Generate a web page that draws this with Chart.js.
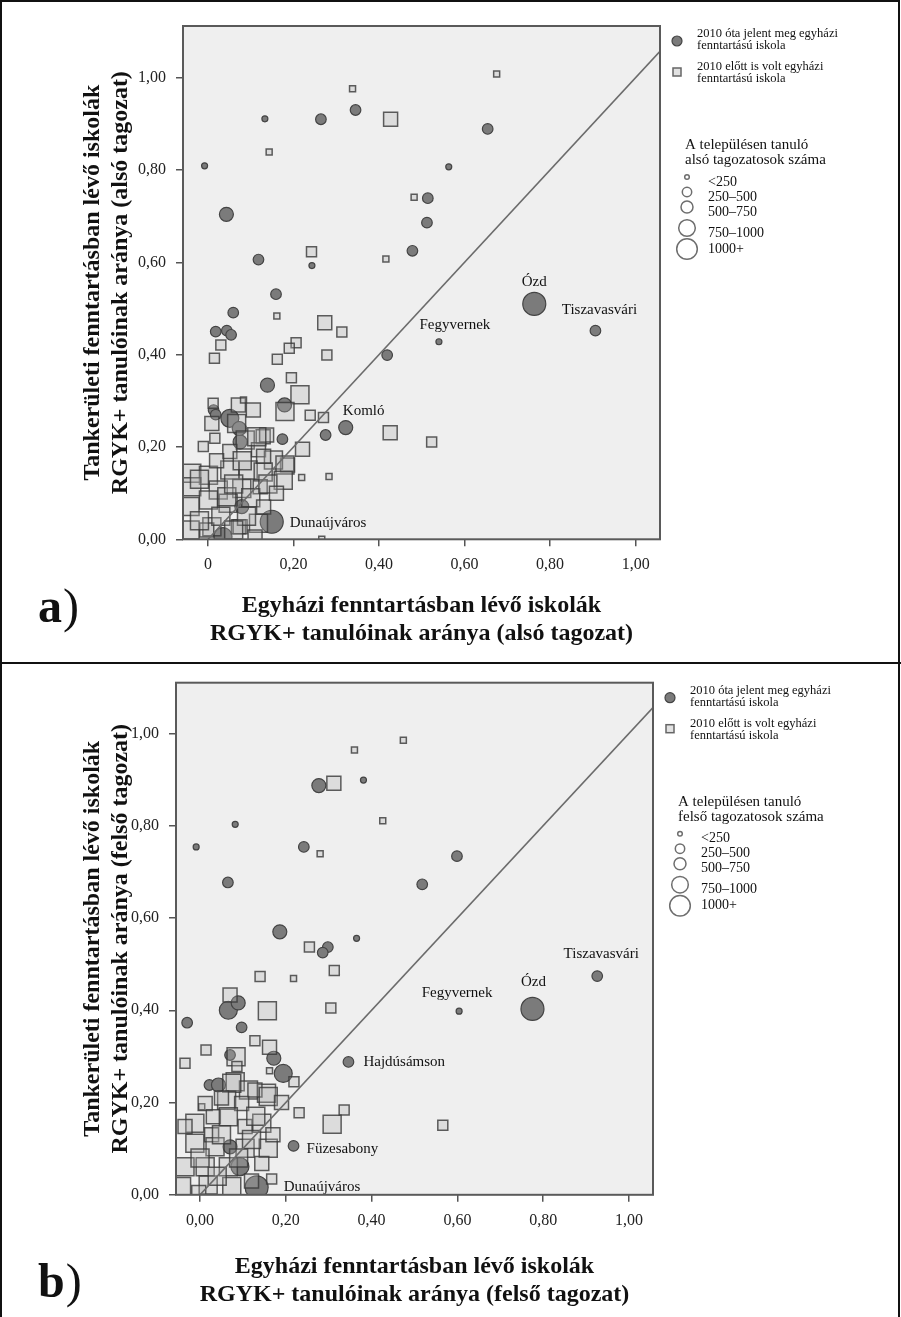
<!DOCTYPE html>
<html>
<head>
<meta charset="utf-8">
<script src="https://cdn.jsdelivr.net/npm/chart.js@4.4.1/dist/chart.umd.min.js"></script>
<style>
  body { margin: 0; background: #fff; width: 901px; height: 1317px; position: relative; overflow: hidden; }
  canvas { position: absolute; left: 0; }
  #chartA { top: 0; }
  #chartB { top: 663px; }
  .frame { position: absolute; left: 0; top: 0; width: 900px; height: 1317px; border: 2px solid #111; border-bottom: none; box-sizing: border-box; pointer-events: none; }
  .sep { position: absolute; left: 0; top: 662px; width: 901px; border-top: 2px solid #111; pointer-events: none; }
</style>
</head>
<body>
<canvas id="chartA" width="901" height="663"></canvas>
<canvas id="chartB" width="901" height="654"></canvas>
<div class="frame"></div>
<div class="sep"></div>
<script>
// ticks
const xTickValues = [0, 0.2, 0.4, 0.6, 0.8, 1.0];
const yTickValues = [0, 0.2, 0.4, 0.6, 0.8, 1.0];
const yTickLabels = ['0,00', '0,20', '0,40', '0,60', '0,80', '1,00'];
const xTickLabelsA = ['0', '0,20', '0,40', '0,60', '0,80', '1,00'];
const xTickLabelsB = ['0,00', '0,20', '0,40', '0,60', '0,80', '1,00'];

// legend texts
const groupNames = [
    ['2010 óta jelent meg egyházi', 'fenntartású iskola'],
    ['2010 előtt is volt egyházi', 'fenntartású iskola']
];
const sizeClasses = ['<250', '250–500', '500–750', '750–1000', '1000+'];

// a) alsó tagozat - circles: new church schools since 2010 (size = class index)
const aCircleX = [0.133, 0.264, 0.345, 0.654, -0.008, 0.563, 0.514, 0.512, 0.043, 0.478,
    0.243, 0.118, 0.159, 0.059, 0.018, 0.044, 0.054, 0.763, 0.906, 0.540,
    0.419, 0.139, 0.179, 0.322, 0.275, 0.174, 0.149, 0.035, 0.013, 0.018,
    0.051, 0.075, 0.073, 0.079];
const aCircleY = [0.911, 0.910, 0.930, 0.889, 0.809, 0.807, 0.739, 0.686, 0.704, 0.625,
    0.593, 0.606, 0.531, 0.491, 0.450, 0.452, 0.443, 0.510, 0.452, 0.428,
    0.399, 0.334, 0.291, 0.242, 0.226, 0.217, 0.038, 0.006, 0.280, 0.270,
    0.262, 0.211, 0.240, 0.071];
const aCircleSize = [0, 1, 1, 1, 0, 0, 1, 1, 2, 1,
    0, 1, 1, 1, 1, 1, 1, 4, 1, 0,
    1, 2, 2, 2, 1, 1, 4, 3, 1, 1,
    3, 2, 2, 2];

// a) squares: church schools already before 2010
const aSquareX = [0.675, 0.338, 0.427, 0.143, 0.482, 0.242, 0.416, 0.161, 0.273, 0.313,
    0.206, 0.030, 0.015, 0.162, 0.190, 0.278, 0.195, 0.215, 0.180, 0.239,
    0.270, 0.426, 0.523, 0.221, 0.186, 0.219, 0.283, 0.266, 0.118, 0.071,
    0.012, 0.071, 0.083, 0.106, 0.067, 0.009, 0.129, 0.087, -0.011, 0.016,
    0.051, 0.118, 0.153, 0.180, 0.051, -0.038, 0.001, 0.094, 0.129, 0.176,
    -0.038, 0.024, 0.079, 0.001, -0.042, 0.047, -0.042, 0.009, 0.075, 0.122,
    0.044, -0.003, 0.137, 0.114, -0.020, 0.060, 0.100, 0.140, 0.030, 0.090,
    0.130, 0.160, -0.020, 0.060, 0.110, 0.020, 0.080, 0.130];
const aSquareY = [1.008, 0.976, 0.910, 0.839, 0.741, 0.623, 0.607, 0.484, 0.469, 0.449,
    0.426, 0.421, 0.392, 0.390, 0.414, 0.399, 0.350, 0.313, 0.277, 0.269,
    0.264, 0.231, 0.211, 0.195, 0.161, 0.134, 0.136, 0.000, 0.035, 0.027,
    0.295, 0.291, 0.302, 0.280, 0.251, 0.251, 0.222, 0.215, 0.201, 0.219,
    0.190, 0.194, 0.172, 0.161, 0.150, 0.143, 0.139, 0.150, 0.146, 0.128,
    0.114, 0.107, 0.110, 0.085, 0.071, 0.078, 0.020, 0.027, 0.027, 0.114,
    0.092, 0.020, 0.226, 0.222, 0.130, 0.120, 0.090, 0.120, 0.050, 0.050,
    0.070, 0.100, 0.040, 0.020, 0.005, 0.170, 0.170, 0.180];
const aSquareSize = [0, 0, 2, 0, 0, 1, 0, 0, 2, 1,
    1, 1, 1, 1, 1, 1, 1, 3, 3, 1,
    1, 2, 1, 2, 2, 0, 0, 0, 3, 2,
    1, 2, 0, 2, 3, 2, 2, 3, 1, 1,
    2, 2, 3, 3, 3, 3, 3, 3, 3, 3,
    3, 3, 3, 3, 3, 3, 3, 3, 2, 2,
    3, 2, 2, 3, 3, 3, 3, 3, 3, 3,
    2, 2, 3, 3, 2, 2, 3, 2];

const aTownNames = ['Ózd', 'Tiszavasvári', 'Fegyvernek', 'Komló', 'Dunaújváros'];
const aTownX = [0.763, 0.906, 0.540, 0.322, 0.149];
const aTownY = [0.510, 0.452, 0.428, 0.242, 0.038];

// b) felső tagozat - circles
const bCircleX = [0.277, 0.381, 0.082, -0.009, 0.242, 0.599, 0.065, 0.518, 0.186, 0.365,
    0.298, 0.286, 0.066, 0.089, -0.030, 0.097, 0.172, 0.070, 0.346, 0.194,
    0.022, 0.043, 0.218, 0.132, 0.604, 0.775, 0.926, 0.070, 0.093];
const bCircleY = [0.887, 0.899, 0.803, 0.754, 0.754, 0.734, 0.677, 0.673, 0.570, 0.556,
    0.537, 0.525, 0.400, 0.416, 0.373, 0.363, 0.296, 0.303, 0.288, 0.263,
    0.238, 0.238, 0.106, 0.016, 0.398, 0.403, 0.474, 0.104, 0.061];
const bCircleSize = [2, 0, 0, 0, 1, 1, 1, 1, 2, 0,
    1, 1, 3, 2, 1, 1, 2, 1, 1, 3,
    1, 2, 1, 4, 0, 4, 1, 2, 3];

// b) squares
const bSquareX = [0.474, 0.360, 0.312, 0.426, 0.280, 0.255, 0.313, 0.140, 0.218, 0.070,
    0.157, 0.305, 0.128, 0.014, 0.162, 0.084, -0.035, 0.162, 0.219, 0.082,
    0.113, 0.155, 0.004, 0.231, 0.336, 0.308, 0.566, 0.167, 0.086, 0.074,
    0.128, 0.012, 0.062, 0.097, -0.012, 0.031, 0.066, 0.144, -0.035, 0.027,
    0.105, -0.012, 0.035, 0.105, 0.159, -0.035, 0.012, 0.066, 0.144, -0.043,
    0.019, 0.074, -0.003, 0.159, 0.050, 0.120, 0.000, 0.090, 0.170, 0.040,
    0.120, 0.190, 0.050, 0.130];
const bSquareY = [0.985, 0.964, 0.892, 0.811, 0.739, 0.537, 0.486, 0.473, 0.469, 0.433,
    0.399, 0.405, 0.334, 0.314, 0.320, 0.299, 0.285, 0.269, 0.245, 0.245,
    0.227, 0.220, 0.191, 0.178, 0.184, 0.153, 0.151, 0.034, 0.278, 0.242,
    0.227, 0.198, 0.205, 0.198, 0.155, 0.169, 0.169, 0.155, 0.148, 0.130,
    0.148, 0.112, 0.104, 0.101, 0.101, 0.061, 0.061, 0.061, 0.068, 0.018,
    0.021, 0.018, 0.005, 0.213, 0.130, 0.120, 0.080, 0.080, 0.130, 0.040,
    0.030, 0.200, 0.210, 0.170];
const bSquareSize = [0, 0, 2, 0, 0, 1, 1, 1, 0, 2,
    3, 1, 1, 1, 2, 3, 1, 0, 1, 3,
    3, 3, 0, 1, 1, 3, 1, 1, 1, 3,
    2, 2, 3, 2, 3, 2, 3, 3, 2, 2,
    2, 3, 3, 3, 3, 3, 3, 3, 2, 3,
    3, 3, 2, 3, 3, 3, 3, 3, 2, 3,
    2, 2, 2, 3];

const bTownNames = ['Tiszavasvári', 'Ózd', 'Fegyvernek', 'Hajdúsámson', 'Füzesabony', 'Dunaújváros'];
const bTownX = [0.926, 0.775, 0.604, 0.346, 0.218, 0.132];
const bTownY = [0.474, 0.403, 0.398, 0.288, 0.106, 0.016];

// styles
const SERIF = '"Liberation Serif", "DejaVu Serif", serif';
const circleRadius = [3, 5.3, 7, 9, 11.5];
const squareSide = [6, 10, 14, 18, 22];
const circleFill = '#7b7b7b';
const circleLine = '#444';
const squareFill = 'rgba(175,175,175,0.3)';
const squareLine = 'rgba(55,55,55,0.8)';

Chart.defaults.font.family = SERIF;

const toPoints = (xs, ys) => xs.map((x, i) => ({ x: x, y: ys[i] }));

const plotFrame = {
    id: 'plotFrame',
    beforeDraw(chart) {
        const { ctx, chartArea: a } = chart;
        ctx.save();
        ctx.fillStyle = '#efefef';
        ctx.fillRect(a.left, a.top, a.right - a.left, a.bottom - a.top);
        ctx.restore();
    },
    afterDatasetsDraw(chart, args, o) {
        const { ctx, chartArea: a } = chart;
        const xs = chart.scales.x, ys = chart.scales.y;
        ctx.save();
        ctx.strokeStyle = '#5a5a5a';
        ctx.lineWidth = 2;
        ctx.strokeRect(a.left, a.top, a.right - a.left, a.bottom - a.top);
        // town names
        ctx.fillStyle = '#111';
        ctx.font = '15px ' + SERIF;
        ctx.textBaseline = 'middle';
        o.names.forEach((n, i) => {
            const off = o.offsets[i];
            ctx.textAlign = off[2];
            ctx.fillText(n, xs.getPixelForValue(o.tx[i]) + off[0], ys.getPixelForValue(o.ty[i]) + off[1]);
        });
        ctx.restore();
    },
    afterDraw(chart, args, o) {
        const { ctx } = chart;
        ctx.save();
        ctx.fillStyle = '#111';
        ctx.textBaseline = 'alphabetic';
        ctx.textAlign = 'left';
        ctx.font = 'bold 48px ' + SERIF;
        ctx.fillText(o.tag, 38, o.tagY);
        const w = ctx.measureText(o.tag).width;
        ctx.font = '48px ' + SERIF;
        ctx.fillText(')', 38 + w + 1, o.tagY);
        ctx.restore();
    }
};

const sideLegend = {
    id: 'sideLegend',
    afterDraw(chart, args, o) {
        const { ctx, chartArea: { right, top } } = chart;
        ctx.save();
        ctx.beginPath();
        ctx.arc(right + 17, top + 15, 5, 0, Math.PI * 2);
        ctx.fillStyle = circleFill;
        ctx.strokeStyle = circleLine;
        ctx.lineWidth = 1.2;
        ctx.fill();
        ctx.stroke();
        ctx.fillStyle = '#e2e2e2';
        ctx.strokeStyle = '#666';
        ctx.lineWidth = 1.5;
        ctx.fillRect(right + 13, top + 42, 8, 8);
        ctx.strokeRect(right + 13, top + 42, 8, 8);

        ctx.fillStyle = '#111';
        ctx.textAlign = 'left';
        ctx.textBaseline = 'middle';
        ctx.font = '12.5px ' + SERIF;
        groupNames[0].forEach((t, i) => ctx.fillText(t, right + 37, top + 8 + i * 12));
        groupNames[1].forEach((t, i) => ctx.fillText(t, right + 37, top + 41 + i * 12));

        ctx.font = '15px ' + SERIF;
        o.heading.forEach((t, i) => ctx.fillText(t, right + 25, top + 119 + i * 15));

        const cy = [151, 166, 181, 202, 223];
        const cr = [2.3, 4.7, 6, 8.3, 10.3];
        const ly = [156, 171, 186, 207, 223];
        ctx.font = '14px ' + SERIF;
        sizeClasses.forEach((t, i) => {
            ctx.beginPath();
            ctx.arc(right + 27, top + cy[i], cr[i], 0, Math.PI * 2);
            ctx.strokeStyle = '#6e6e6e';
            ctx.lineWidth = 1.5;
            ctx.stroke();
            ctx.fillText(t, right + 48, top + ly[i]);
        });
        ctx.restore();
    }
};

function makePanel(id, p) {
    const titleFont = { family: SERIF, size: 24, weight: 'bold', lineHeight: 1.15 };
    const tickFont = { family: SERIF, size: 16 };
    return new Chart(document.getElementById(id), {
        type: 'scatter',
        data: {
            datasets: [
                {
                    type: 'line',
                    showLine: true,
                    data: [{ x: 0, y: 0 }, { x: p.xMax, y: p.xMax }],
                    borderColor: '#6b6b6b',
                    borderWidth: 1.6,
                    pointRadius: 0,
                    order: 0,
                    clip: 0
                },
                {
                    data: toPoints(p.squareX, p.squareY),
                    pointStyle: 'rect',
                    pointRadius: c => squareSide[p.squareSize[c.dataIndex]] / Math.SQRT2,
                    backgroundColor: squareFill,
                    borderColor: squareLine,
                    borderWidth: 1.5,
                    order: 1,
                    clip: 0
                },
                {
                    data: toPoints(p.circleX, p.circleY),
                    pointStyle: 'circle',
                    pointRadius: c => circleRadius[p.circleSize[c.dataIndex]],
                    backgroundColor: circleFill,
                    borderColor: circleLine,
                    borderWidth: 1.2,
                    order: 2,
                    clip: 0
                }
            ]
        },
        options: {
            responsive: false,
            animation: false,
            events: [],
            layout: { padding: { left: 0, top: p.padTop, right: p.padRight, bottom: 0 } },
            scales: {
                x: {
                    type: 'linear',
                    min: p.xMin,
                    max: p.xMax,
                    afterBuildTicks: s => { s.ticks = xTickValues.map(v => ({ value: v })); },
                    afterFit: s => { s.height = p.xAxisHeight; },
                    ticks: {
                        callback: (v, i) => p.xTickLabels[i],
                        font: tickFont, color: '#222', padding: 9,
                        autoSkip: false, maxRotation: 0
                    },
                    grid: { drawOnChartArea: false, drawTicks: true, tickLength: 7, color: '#555', lineWidth: 1.5 },
                    border: { display: false },
                    title: {
                        display: true, text: p.xTitle, font: titleFont, color: '#111',
                        padding: { top: 0, bottom: p.xTitlePad }
                    }
                },
                y: {
                    type: 'linear',
                    min: 0,
                    max: p.yMax,
                    afterBuildTicks: s => { s.ticks = yTickValues.map(v => ({ value: v })); },
                    afterFit: s => { s.width = p.yAxisWidth; },
                    ticks: {
                        callback: (v, i) => yTickLabels[i],
                        font: tickFont, color: '#222', padding: 10, autoSkip: false
                    },
                    grid: { drawOnChartArea: false, drawTicks: true, tickLength: 7, color: '#555', lineWidth: 1.5 },
                    border: { display: false },
                    title: {
                        display: true, text: p.yTitle, font: titleFont, color: '#111',
                        padding: { top: 79, bottom: 0 }
                    }
                }
            },
            plugins: {
                legend: { display: false },
                tooltip: { enabled: false },
                plotFrame: { names: p.townNames, tx: p.townX, ty: p.townY, offsets: p.townOffsets, tag: p.tag, tagY: p.tagY },
                sideLegend: { heading: p.heading }
            }
        },
        plugins: [plotFrame, sideLegend]
    });
}

makePanel('chartA', {
    circleX: aCircleX, circleY: aCircleY, circleSize: aCircleSize,
    squareX: aSquareX, squareY: aSquareY, squareSize: aSquareSize,
    townNames: aTownNames, townX: aTownX, townY: aTownY,
    townOffsets: [[0, -22, 'center'], [4, -21, 'center'], [16, -17, 'center'], [18, -17, 'center'], [18, 1, 'left']],
    xTickLabels: xTickLabelsA,
    xTitle: ['Egyházi fenntartásban lévő iskolák', 'RGYK+ tanulóinak aránya (alsó tagozat)'],
    yTitle: ['Tankerületi fenntartásban lévő iskolák', 'RGYK+ tanulóinak aránya (alsó tagozat)'],
    heading: ['A településen tanuló', 'alsó tagozatosok száma'],
    xMin: -0.0585, xMax: 1.057, yMax: 1.112,
    padTop: 26, padRight: 241, yAxisWidth: 183, xAxisHeight: 123.7, xTitlePad: 15.6,
    tag: 'a', tagY: 622
});

makePanel('chartB', {
    circleX: bCircleX, circleY: bCircleY, circleSize: bCircleSize,
    squareX: bSquareX, squareY: bSquareY, squareSize: bSquareSize,
    townNames: bTownNames, townX: bTownX, townY: bTownY,
    townOffsets: [[4, -22, 'center'], [1, -27, 'center'], [-2, -18, 'center'], [15, 0, 'left'], [13, 3, 'left'], [27, 0, 'left']],
    xTickLabels: xTickLabelsB,
    xTitle: ['Egyházi fenntartásban lévő iskolák', 'RGYK+ tanulóinak aránya (felső tagozat)'],
    yTitle: ['Tankerületi fenntartásban lévő iskolák', 'RGYK+ tanulóinak aránya (felső tagozat)'],
    heading: ['A településen tanuló', 'felső tagozatosok száma'],
    xMin: -0.056, xMax: 1.056, yMax: 1.11,
    padTop: 19.7, padRight: 248, yAxisWidth: 176, xAxisHeight: 122.2, xTitlePad: 8.6,
    tag: 'b', tagY: 634
});
</script>
</body>
</html>
